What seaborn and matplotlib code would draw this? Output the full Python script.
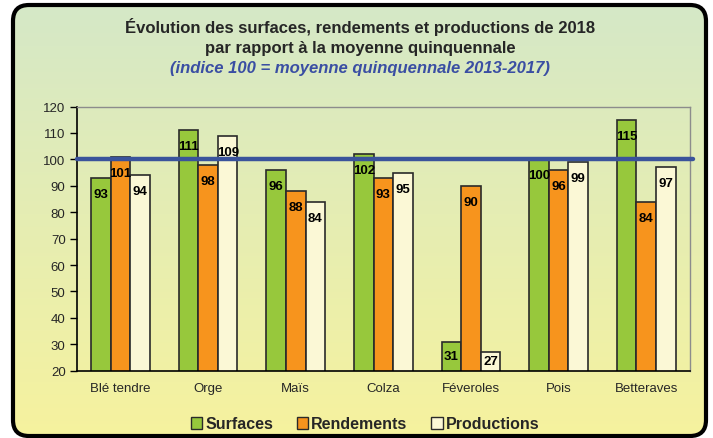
import numpy as np
import pandas as pd
import matplotlib
matplotlib.use("Agg")
import matplotlib.pyplot as plt
import seaborn as sns
from matplotlib.patches import FancyBboxPatch, Patch

categories = ["Blé tendre", "Orge", "Maïs", "Colza", "Féveroles", "Pois", "Betteraves"]
series = ["Surfaces", "Rendements", "Productions"]
surfaces = [93, 111, 96, 102, 31, 100, 115]
rendements = [101, 98, 88, 93, 90, 96, 84]
productions = [94, 109, 84, 95, 27, 99, 97]
yticks = [20, 30, 40, 50, 60, 70, 80, 90, 100, 110, 120]
reference = 100

colors = ["#97c83c", "#f7941d", "#fbf8d6"]

sns.set_theme(style="white")
plt.rcParams["font.family"] = ["Liberation Sans", "DejaVu Sans"]

df = pd.DataFrame({
    "cat": categories * 3,
    "serie": [s for s in series for _ in categories],
    "val": surfaces + rendements + productions,
})

W, H = 713, 439
fig = plt.figure(figsize=(W / 100, H / 100), dpi=100)
fig.patch.set_facecolor("white")

# background gradient in rounded frame
bg = fig.add_axes([0, 0, 1, 1])
bg.set_xlim(0, W)
bg.set_ylim(H, 0)
bg.axis("off")
grad = np.linspace(0, 1, 256)[:, None]
top = np.array([0.835, 0.91, 0.78])
bot = np.array([0.965, 0.95, 0.62])
img = top[None, None, :] * (1 - grad[:, :, None]) + bot[None, None, :] * grad[:, :, None]
im = bg.imshow(img, extent=[13, 706, 437, 6], aspect="auto", zorder=0)
frame = FancyBboxPatch((13, 6), 693, 431, boxstyle="round,pad=0,rounding_size=16",
                       fc="none", ec="black", lw=3, zorder=2)
bg.add_patch(frame)
im.set_clip_path(frame)

ax = fig.add_axes([76.7 / W, 1 - 371.7 / H, (690 - 76.7) / W, (371.7 - 107.5) / H])
ax.set_facecolor("none")
sns.barplot(data=df, x="cat", y="val", hue="serie", palette=colors, width=0.67,
            edgecolor="#2a2a2a", linewidth=1.2, saturation=1, ax=ax, legend=False)

ax.set_ylim(20, 120)
ax.set_yticks(yticks)
ax.set_xlim(-0.5, len(categories) - 0.5)
ax.set_xlabel("")
ax.set_ylabel("")
ax.tick_params(axis="y", length=5, width=1, color="black", labelsize=9.5, pad=3, left=True)
ax.tick_params(axis="x", length=0, labelsize=9.5, pad=8)
for s in ["top", "right"]:
    ax.spines[s].set_color("#8c8c8c")
    ax.spines[s].set_linewidth(1)
for s in ["left", "bottom"]:
    ax.spines[s].set_color("black")
    ax.spines[s].set_linewidth(1.2)

ax.axhline(reference, color="#3a539b", lw=3.2, xmin=0, xmax=1.005, clip_on=False, zorder=5)

# value labels
px_per_unit = (371.7 - 107.5) / 100
for cont in ax.containers:
    for bar in cont:
        v = bar.get_height()
        vis = (v - 20) * px_per_unit
        off = min(16, vis / 2) / 1.389
        ax.annotate(f"{v:.0f}", xy=(bar.get_x() + bar.get_width() / 2, v),
                    xytext=(0, -off), textcoords="offset points", ha="center", va="center",
                    fontsize=9.5, fontweight="bold", color="black", zorder=6)

# titles
fig.text(0.505, 1 - 27 / H, "Évolution des surfaces, rendements et productions de 2018",
         ha="center", va="center", fontsize=12, fontweight="bold")
fig.text(0.505, 1 - 48 / H, "par rapport à la moyenne quinquennale",
         ha="center", va="center", fontsize=12, fontweight="bold")
fig.text(0.505, 1 - 68 / H, "(indice 100 = moyenne quinquennale 2013-2017)",
         ha="center", va="center", fontsize=12, fontweight="bold", style="italic",
         color="#3a4ea3")

handles = [Patch(facecolor=c, edgecolor="#2a2a2a", lw=1) for c in colors]
fig.legend(handles, series, loc="center", bbox_to_anchor=(0.512, 1 - 425 / H), ncol=3,
           frameon=False, handlelength=0.7, handleheight=0.7, handletextpad=0.2,
           columnspacing=1.5, prop={"weight": "bold", "size": 11.5})

fig.savefig("out.png", dpi=100)
